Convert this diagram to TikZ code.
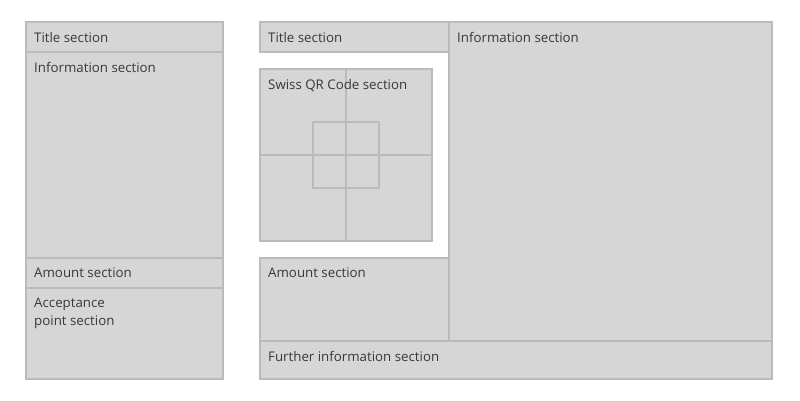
\documentclass[tikz,border=0pt]{standalone}
\usepackage{fontspec}
\setmainfont{Open Sans}
\definecolor{secfill}{HTML}{D6D6D6}
\definecolor{secline}{HTML}{BBBBBB}
\definecolor{sectxt}{HTML}{383838}
\begin{document}
\begin{tikzpicture}[x=1pt,y=-1pt,
		section/.style={draw=secline,fill=secfill,line width=2pt,inner sep=0pt,outer sep=0pt,anchor=north west},
		sectext/.style={anchor=north west,inner sep=0pt,xshift=8pt,yshift=-10pt,text=sectxt,align=left,font=\fontsize{13.3}{18}\selectfont}]
	\useasboundingbox (0,0) rectangle (800,400);
	% receipt
	\node[section,minimum width=197pt,minimum height=30pt,label={[sectext]north west:Title section}] (rtitle) at (26,22) {};
	\node[section,minimum width=197pt,minimum height=206pt,label={[sectext]north west:Information section}] (rinfo) at (26,52) {};
	\node[section,minimum width=197pt,minimum height=30pt,label={[sectext]north west:Amount section}] (ramount) at (26,258) {};
	\node[section,minimum width=197pt,minimum height=91pt,label={[sectext]north west:Acceptance\\point section}] (raccept) at (26,288) {};
	% payment part
	\node[section,minimum width=323pt,minimum height=319pt,label={[sectext]north west:Information section}] (pinfo) at (449,22) {};
	\node[section,minimum width=189pt,minimum height=30pt,label={[sectext]north west:Title section}] (ptitle) at (260,22) {};
	\node[section,minimum width=189pt,minimum height=83pt,label={[sectext]north west:Amount section}] (pamount) at (260,258) {};
	\node[section,minimum width=512pt,minimum height=38pt,label={[sectext]north west:Further information section}] (pfurther) at (260,341) {};
	% QR code
	\node[section,minimum width=172pt,minimum height=172pt] (qr) at (260,69) {};
	\draw[secline,line width=2pt] (qr.north) -- (qr.south) (qr.west) -- (qr.east);
	\node[section,anchor=center,minimum size=66pt] (qrcross) at (qr.center) {};
	\draw[secline,line width=2pt] (qrcross.north) -- (qrcross.south) (qrcross.west) -- (qrcross.east);
	\node[sectext] (qrtext) at (qr.north west) {Swiss QR Code section};
\end{tikzpicture}
\end{document}
